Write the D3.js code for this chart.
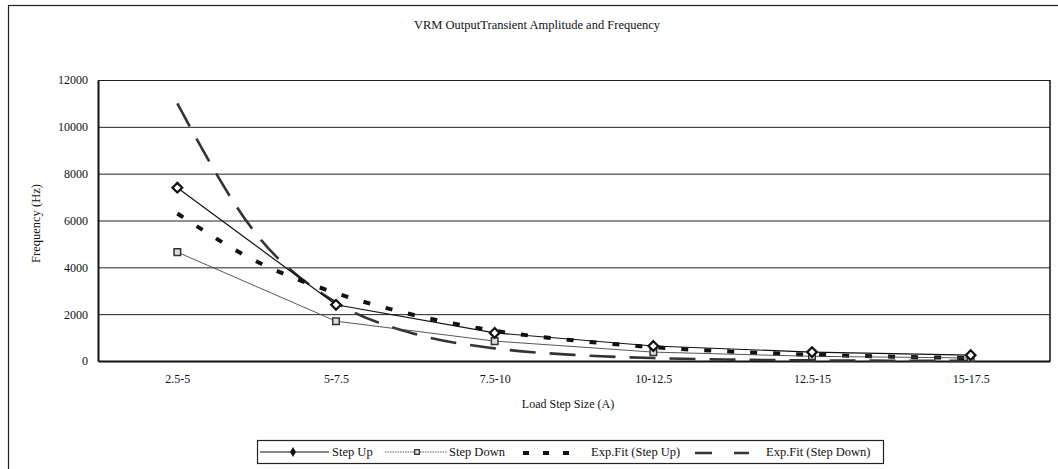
<!DOCTYPE html>
<html>
<head>
<meta charset="utf-8">
<script src="https://cdn.jsdelivr.net/npm/d3@7"></script>
<style>
  body { margin: 0; background: #fff; }
  text { font-family: "Liberation Serif", "DejaVu Serif", serif; fill: #111; }
</style>
</head>
<body>
<svg></svg>
<script>
const categories = ['2.5-5', '5-7.5', '7.5-10', '10-12.5', '12.5-15', '15-17.5'];
const stepUp = [7400, 2400, 1200, 640, 380, 250];
const stepDown = [4650, 1700, 850, 380, 200, 130];
// trendline at each category and half way between them
const fitPos = [0, 0.5, 1, 1.5, 2, 2.5, 3, 3.5, 4, 4.5, 5];
const fitUp = [6300, 4250, 2900, 1950, 1290, 880, 590, 400, 270, 185, 125];
const fitDown = [11000, 5400, 2500, 1150, 540, 260, 125, 60, 28, 13, 6];
const yTicks = [0, 2000, 4000, 6000, 8000, 10000, 12000];

let width = 1058;
let height = 469;
let plot = { left: 98, right: 1050, top: 80, bottom: 361 };

let svg = d3.select('svg')
            .attr('width', width)
            .attr('height', height);

// outer frame
svg.append('rect')
    .attr('x', 8.5).attr('y', 5.5)
    .attr('width', 1070).attr('height', 480)
    .attr('fill', 'none').attr('stroke', '#222').attr('stroke-width', 1.2);

svg.append('text')
    .attr('x', 537).attr('y', 29)
    .attr('text-anchor', 'middle')
    .style('font-size', '12.5px')
    .text('VRM OutputTransient Amplitude and Frequency');

let xScale = d3.scalePoint()
            .domain(categories)
            .range([plot.left, plot.right])
            .padding(0.5);
let xIdx = d3.scaleLinear()
            .domain([0, categories.length - 1])
            .range([xScale(categories[0]), xScale(categories[categories.length - 1])]);
let yScale = d3.scaleLinear()
            .domain([0, 12000])
            .range([plot.bottom, plot.top]);

// grid
svg.append('g')
    .selectAll('line')
    .data(yTicks.slice(1))
    .join('line')
    .attr('x1', plot.left).attr('x2', plot.right)
    .attr('y1', d => yScale(d) + 0.5).attr('y2', d => yScale(d) + 0.5)
    .attr('stroke', '#222').attr('stroke-width', 1);

let yAxis = d3.axisLeft(yScale).tickValues(yTicks).tickSize(0).tickPadding(10).tickFormat(d3.format('d'));
let gy = svg.append('g')
    .attr('transform', `translate(${plot.left},0)`)
    .call(yAxis);
gy.select('.domain').attr('stroke', '#111').attr('stroke-width', 2);
gy.selectAll('text').style('font-size', '12px').style('font-family', '"Liberation Serif", serif');

let xAxis = d3.axisBottom(xScale).tickSize(0).tickPadding(13);
let gx = svg.append('g')
    .attr('transform', `translate(0,${plot.bottom})`)
    .call(xAxis);
gx.select('.domain').attr('stroke', '#111').attr('stroke-width', 2);
gx.selectAll('text').style('font-size', '12px').style('font-family', '"Liberation Serif", serif');

// right border of plot
svg.append('line')
    .attr('x1', plot.right).attr('x2', plot.right)
    .attr('y1', plot.top).attr('y2', plot.bottom)
    .attr('stroke', '#111').attr('stroke-width', 1.5);

svg.append('text')
    .attr('transform', `translate(40,${(plot.top + plot.bottom) / 2 + 3}) rotate(-90)`)
    .attr('text-anchor', 'middle')
    .style('font-size', '12.5px')
    .text('Frequency (Hz)');

svg.append('text')
    .attr('x', (plot.left + plot.right) / 2 - 6).attr('y', 408)
    .attr('text-anchor', 'middle')
    .style('font-size', '12px')
    .text('Load Step Size (A)');

let curve = d3.line()
            .x((d, i) => xIdx(fitPos[i]))
            .y(d => yScale(d))
            .curve(d3.curveMonotoneX);
let straight = d3.line()
            .x((d, i) => xScale(categories[i]))
            .y(d => yScale(d));

svg.append('path').datum(fitDown)
    .attr('d', curve)
    .attr('fill', 'none').attr('stroke', '#333')
    .attr('stroke-width', 2.6).attr('stroke-dasharray', '26,14');

svg.append('path').datum(fitUp)
    .attr('d', curve)
    .attr('fill', 'none').attr('stroke', '#111')
    .attr('stroke-width', 4).attr('stroke-dasharray', '7,16');

svg.append('path').datum(stepDown)
    .attr('d', straight)
    .attr('fill', 'none').attr('stroke', '#444')
    .attr('stroke-width', 0.9);

svg.append('path').datum(stepUp)
    .attr('d', straight)
    .attr('fill', 'none').attr('stroke', '#111')
    .attr('stroke-width', 1.2);

let diamond = d3.symbol().type(d3.symbolDiamond2).size(60);
let square = d3.symbol().type(d3.symbolSquare2).size(55);

svg.append('g').selectAll('path')
    .data(stepDown)
    .join('path')
    .attr('transform', (d, i) => `translate(${xScale(categories[i])},${yScale(d)})`)
    .attr('d', square)
    .attr('fill', '#ddd').attr('stroke', '#333').attr('stroke-width', 1.5);

svg.append('g').selectAll('path')
    .data(stepUp)
    .join('path')
    .attr('transform', (d, i) => `translate(${xScale(categories[i])},${yScale(d)})`)
    .attr('d', diamond)
    .attr('fill', '#fff').attr('stroke', '#111').attr('stroke-width', 2.2);

// legend
let lg = svg.append('g');
lg.append('rect')
    .attr('x', 257.5).attr('y', 440.5)
    .attr('width', 626).attr('height', 23)
    .attr('fill', '#fff').attr('stroke', '#222').attr('stroke-width', 1.2);

let ly = 452;
lg.append('line').attr('x1', 260).attr('x2', 329).attr('y1', ly).attr('y2', ly)
    .attr('stroke', '#111').attr('stroke-width', 1.2);
lg.append('path').attr('transform', `translate(293,${ly})`)
    .attr('d', d3.symbol().type(d3.symbolDiamond).size(30)).attr('fill', '#111');
lg.append('line').attr('x1', 385).attr('x2', 447).attr('y1', ly).attr('y2', ly)
    .attr('stroke', '#444').attr('stroke-width', 0.9).attr('stroke-dasharray', '1.5,1');
lg.append('path').attr('transform', `translate(417,${ly})`)
    .attr('d', d3.symbol().type(d3.symbolSquare2).size(28))
    .attr('fill', '#ddd').attr('stroke', '#333').attr('stroke-width', 1.2);
lg.append('line').attr('x1', 523).attr('x2', 571).attr('y1', ly + 1).attr('y2', ly + 1)
    .attr('stroke', '#111').attr('stroke-width', 4).attr('stroke-dasharray', '6,14');
lg.append('line').attr('x1', 695).attr('x2', 749).attr('y1', ly + 1).attr('y2', ly + 1)
    .attr('stroke', '#333').attr('stroke-width', 2.6).attr('stroke-dasharray', '17,22');

const legendItems = [
    { label: 'Step Up', x: 332 },
    { label: 'Step Down', x: 449 },
    { label: 'Exp.Fit (Step Up)', x: 591 },
    { label: 'Exp.Fit (Step Down)', x: 766 }
];
lg.selectAll('text.lbl')
    .data(legendItems)
    .join('text')
    .attr('class', 'lbl')
    .attr('x', d => d.x).attr('y', ly + 4)
    .style('font-size', '12.5px')
    .text(d => d.label);
</script>
</body>
</html>
